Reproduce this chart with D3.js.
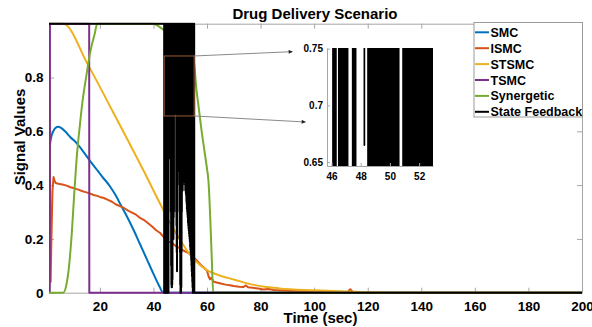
<!DOCTYPE html>
<html>
<head>
<meta charset="utf-8">
<script src="https://cdn.jsdelivr.net/npm/d3@7"></script>
<style>
  html, body { margin: 0; padding: 0; background: #fff; }
  svg { display: block; font-family: "Liberation Sans", Arial, Helvetica, sans-serif; }
</style>
</head>
<body>
<svg id="chart" width="592" height="327"></svg>
<script>
// ---- series (time in sec, signal value) ----
const smcTime = [1, 1.5, 2, 2.6, 3.5, 4.4, 5.5, 7, 9, 11.3, 14, 16.3, 18.8, 21, 23.8, 26, 28, 30, 32.5, 35, 37.5, 40, 42, 43.7, 200];
const smcValue = [0.515, 0.56, 0.585, 0.6, 0.613, 0.617, 0.613, 0.6, 0.578, 0.556, 0.522, 0.49, 0.458, 0.43, 0.395, 0.36, 0.322, 0.285, 0.235, 0.18, 0.125, 0.07, 0.028, 0, 0];

const ismcTime = [1, 1.6, 1.9, 2.3, 2.7, 3.1, 3.5, 4.5, 6, 7.6, 9, 10.5, 12, 13.5, 15, 16.5, 18, 19, 20, 21.5, 23, 24.5, 26, 27.5, 29, 30.5, 32, 33.5, 35, 36.5, 38, 39.5, 41, 42.5, 44, 45.5, 47, 48.5, 50, 51.5, 53, 54.5, 56, 57.5, 59, 60, 60.6, 61.1, 61.6, 62.5, 64, 65.5, 67, 68.5, 70, 72, 73.5, 74.5, 75.3, 77, 79, 81, 83, 85, 87, 90, 93, 96, 100, 105, 110, 112.5, 113.5, 114.3, 115, 200];
const ismcValue = [1.0, 0.04, 0.2, 0.38, 0.43, 0.415, 0.408, 0.405, 0.402, 0.398, 0.392, 0.388, 0.383, 0.377, 0.373, 0.368, 0.362, 0.36, 0.356, 0.352, 0.345, 0.338, 0.328, 0.322, 0.315, 0.305, 0.298, 0.29, 0.278, 0.27, 0.258, 0.246, 0.232, 0.222, 0.205, 0.19, 0.185, 0.172, 0.165, 0.155, 0.148, 0.136, 0.122, 0.105, 0.092, 0.082, 0.06, 0.05, 0.055, 0.041, 0.037, 0.033, 0.03, 0.028, 0.025, 0.022, 0.021, 0.027, 0.02, 0.018, 0.016, 0.012, 0.014, 0.01, 0.009, 0.007, 0.006, 0.005, 0.004, 0.003, 0.002, 0.004, 0.013, 0.004, 0, 0];

const stsmcTime = [1, 6.3, 15.6, 25, 30, 36.2, 40, 43.7, 47, 50, 53, 56, 60, 65, 70, 77, 87, 100, 110, 120, 130, 200];
const stsmcValue = [1.0, 1.0, 0.846, 0.67, 0.575, 0.456, 0.38, 0.307, 0.245, 0.196, 0.15, 0.115, 0.084, 0.063, 0.049, 0.03, 0.016, 0.009, 0.005, 0.002, 0, 0];

const tsmcTime = [1.3, 1.35, 16.0, 16.05, 200];
const tsmcValue = [0, 1, 1, 0, 0];

const synTime = [1, 6.3, 7.5, 8.5, 9.5, 10.5, 11.5, 12.5, 13.5, 15, 16.5, 18, 19, 40, 42, 44, 47, 50, 53, 55, 56, 57, 58, 59, 60, 60.5, 61.2, 61.8, 62.3, 200];
const synValue = [0, 0, 0.03, 0.1, 0.22, 0.38, 0.52, 0.62, 0.71, 0.81, 0.9, 0.96, 1.0, 1.0, 0.99, 0.975, 0.955, 0.935, 0.9, 0.865, 0.76, 0.68, 0.6, 0.53, 0.46, 0.42, 0.28, 0.12, 0, 0];

// State feedback: on (1) until the switching interval, then rapid dips, then off (0)
const sfHeadTime = [1];
const sfHeadValue = [1];
const sfDipTime = [
  44.0, 44.1, 44.2, 44.3, 44.4, 44.5, 44.6, 44.7, 44.8, 44.9, 45.0, 45.1, 45.2, 45.3, 45.4, 45.5, 45.6,
  46.1, 46.2, 46.3,
  46.5, 46.6, 46.7, 46.8, 46.9, 47.0, 47.1,
  47.45, 47.55, 47.65,
  48.25,
  48.5, 48.6, 48.7, 48.8, 48.9, 49.0, 49.1, 49.2, 49.3, 49.4, 49.5, 49.6, 49.7, 49.8, 49.9, 50.0, 50.1, 50.2, 50.3, 50.4, 50.5, 50.6,
  50.9, 51.0, 51.1, 51.2, 51.3, 51.4, 51.5, 51.6, 51.7, 51.8, 51.9, 52.0, 52.1, 52.2, 52.3, 52.4, 52.5, 52.6, 52.7, 52.8, 52.9,
  53.0, 53.1, 53.2, 53.3, 53.4, 53.5, 53.6, 53.7, 53.8, 53.9, 54.0, 54.1, 54.2, 54.3, 54.4, 54.5, 54.6,
  54.7, 54.8, 54.9, 55.0, 55.1, 55.2
];
const sfDipLow = [
  0, 0, 0, 0, 0, 0, 0, 0, 0, 0, 0, 0, 0, 0, 0, 0, 0,
  0.50, 0.58, 0.55,
  0.30, 0.10, 0.03, 0.02, 0.02, 0.03, 0.05,
  0.20, 0.28, 0.30,
  0.665,
  0.30, 0.25, 0.15, 0.08, 0.20, 0.45, 0.58, 0.60, 0.55, 0.58, 0.50, 0.45, 0.40, 0.30, 0.15, 0.03, 0, 0, 0, 0.02, 0.15, 0.30,
  0.38, 0.40, 0.42, 0.43, 0.44, 0.42, 0.44, 0.43, 0.41, 0.40, 0.38, 0.39, 0.37, 0.36, 0.34, 0.33, 0.31, 0.30, 0.29, 0.28, 0.26,
  0.25, 0.24, 0.23, 0.22, 0.21, 0.20, 0.19, 0.17, 0.16, 0.15, 0.14, 0.12, 0.10, 0.08, 0.06, 0.04, 0.02,
  0, 0, 0, 0, 0, 0
];
const sfTailTime = [55.25, 200];
const sfTailValue = [0, 0];

const seriesNames = ["SMC", "ISMC", "STSMC", "TSMC", "Synergetic", "State Feedback"];
const seriesColors = ["#0072BD", "#D95319", "#EDB120", "#7E2F8E", "#77AC30", "#000000"];

// axis ticks
const xTicks = [20, 40, 60, 80, 100, 120, 140, 160, 180, 200];
const yTicks = [0, 0.2, 0.4, 0.6, 0.8];
const insetXTicks = [46, 48, 50, 52];
const insetYTicks = [0.65, 0.7, 0.75];

// zoomed region [t0, t1, v0, v1]
const zoomBox = [44, 55.2, 0.657, 0.88];

// ---- build ----
const zip = (t, v) => t.map((d, i) => [d, v[i]]);
const sfPoints = [];
zip(sfHeadTime, sfHeadValue).forEach(p => sfPoints.push(p));
sfDipTime.forEach((t, i) => { sfPoints.push([t, 1], [t, sfDipLow[i]], [t, 1]); });
zip(sfTailTime, sfTailValue).forEach(p => sfPoints.push(p));

const seriesData = [
  { pts: zip(smcTime, smcValue), curve: d3.curveMonotoneX },
  { pts: zip(ismcTime, ismcValue), curve: d3.curveLinear },
  { pts: zip(stsmcTime, stsmcValue), curve: d3.curveMonotoneX },
  { pts: zip(tsmcTime, tsmcValue), curve: d3.curveLinear },
  { pts: zip(synTime, synValue), curve: d3.curveMonotoneX },
  { pts: sfPoints, curve: d3.curveLinear }
];

const svg = d3.select("#chart");
const W = 592, H = 327;
const axisGray = "#a6a6a6";

const m = { left: 49, right: 582, top: 23.7, bottom: 292.7 };
const x = d3.scaleLinear().domain([1, 200]).range([m.left, m.right]);
const y = d3.scaleLinear().domain([0, 1]).range([m.bottom, m.top]);

svg.append("defs").append("clipPath").attr("id", "mainClip")
  .append("rect").attr("x", m.left).attr("y", m.top - 1.5)
  .attr("width", m.right - m.left).attr("height", m.bottom - m.top + 3);

// axes (MATLAB-like box, inward ticks)
function styleAxis(g) {
  g.selectAll("path.domain").attr("stroke", axisGray).attr("stroke-width", 1);
  g.selectAll(".tick line").attr("stroke", axisGray).attr("stroke-width", 1);
  g.selectAll(".tick text").attr("fill", "#000").attr("font-weight", "bold");
}
svg.append("g").attr("transform", `translate(0,${m.bottom})`)
  .call(d3.axisBottom(x).tickValues(xTicks).tickSize(-5).tickSizeOuter(0).tickPadding(8.3))
  .call(styleAxis).call(g => g.selectAll("text").attr("font-size", "13.5px"));
svg.append("g").attr("transform", `translate(0,${m.top})`)
  .call(d3.axisTop(x).tickValues(xTicks).tickSize(-5).tickSizeOuter(0).tickFormat(""))
  .call(styleAxis);
svg.append("g").attr("transform", `translate(${m.left},0)`)
  .call(d3.axisLeft(y).tickValues(yTicks).tickSize(-5).tickSizeOuter(0).tickPadding(5.5).tickFormat(d => d === 0 ? "0" : d3.format(".1f")(d)))
  .call(styleAxis).call(g => g.selectAll("text").attr("font-size", "13.5px"));
svg.append("g").attr("transform", `translate(${m.right},0)`)
  .call(d3.axisRight(y).tickValues(yTicks).tickSize(-5).tickSizeOuter(0).tickFormat(""))
  .call(styleAxis);

// lines
const plot = svg.append("g").attr("clip-path", "url(#mainClip)");
seriesData.forEach((s, i) => {
  plot.append("path")
    .datum(s.pts)
    .attr("fill", "none")
    .attr("stroke", seriesColors[i])
    .attr("stroke-width", 2)
    .attr("stroke-linejoin", "round")
    .attr("d", d3.line().x(d => x(d[0])).y(d => y(d[1])).curve(s.curve));
});

// zoomed region outline
svg.append("rect")
  .attr("x", x(zoomBox[0])).attr("y", y(zoomBox[3]))
  .attr("width", x(zoomBox[1]) - x(zoomBox[0]))
  .attr("height", y(zoomBox[2]) - y(zoomBox[3]))
  .attr("fill", "none").attr("stroke", "#9b5b38").attr("stroke-width", 1);

// arrows toward the inset (figure-normalised end points)
const arrowEnds = [[0.4944, 0.158], [0.5164, 0.3731]];
const arrowStarts = [[zoomBox[1], zoomBox[3]], [zoomBox[1], zoomBox[2]]];
svg.select("defs").append("marker")
  .attr("id", "arrowHead").attr("viewBox", "0 0 10 10")
  .attr("refX", 10).attr("refY", 5)
  .attr("markerWidth", 5).attr("markerHeight", 4)
  .attr("markerUnits", "userSpaceOnUse")
  .attr("orient", "auto")
  .append("path").attr("d", "M0,0 L10,5 L0,10 z").attr("fill", "#222");
arrowStarts.forEach((s, i) => {
  svg.append("line")
    .attr("x1", x(s[0])).attr("y1", y(s[1]))
    .attr("x2", arrowEnds[i][0] * W).attr("y2", arrowEnds[i][1] * H)
    .attr("stroke", "#8a8a8a").attr("stroke-width", 1)
    .attr("marker-end", "url(#arrowHead)");
});

// ---- inset: state feedback close-up ----
const ix = d3.scaleLinear().domain([45.69, 52.95]).range([327, 433]);
const iy = d3.scaleLinear().domain([0.6465, 0.7506]).range([166, 48]);
svg.select("defs").append("clipPath").attr("id", "insetClip")
  .append("rect").attr("x", ix.range()[0]).attr("y", iy.range()[1])
  .attr("width", ix.range()[1] - ix.range()[0]).attr("height", iy.range()[0] - iy.range()[1]);
svg.append("rect").attr("x", ix.range()[0]).attr("y", iy.range()[1])
  .attr("width", ix.range()[1] - ix.range()[0]).attr("height", iy.range()[0] - iy.range()[1])
  .attr("fill", "#fff");
svg.append("g").attr("clip-path", "url(#insetClip)")
  .append("path").datum(sfPoints)
  .attr("fill", "none").attr("stroke", "#000").attr("stroke-width", 1.7)
  .attr("stroke-linejoin", "round")
  .attr("d", d3.line().x(d => ix(d[0])).y(d => iy(d[1])));
svg.append("g").attr("transform", `translate(0,${iy.range()[0]})`)
  .call(d3.axisBottom(ix).tickValues(insetXTicks).tickSize(-3).tickSizeOuter(0).tickPadding(7))
  .call(styleAxis).call(g => g.selectAll("text").attr("font-size", "10px"));
svg.append("g").attr("transform", `translate(${ix.range()[0]},0)`)
  .call(d3.axisLeft(iy).tickValues(insetYTicks).tickSize(-3).tickSizeOuter(0).tickPadding(4).tickFormat(d => String(d)))
  .call(styleAxis).call(g => g.selectAll("text").attr("font-size", "10px"));

// ---- titles ----
svg.append("text").attr("x", 315).attr("y", 19).attr("text-anchor", "middle")
  .attr("font-size", "15px").attr("font-weight", "bold").text("Drug Delivery Scenario");
svg.append("text").attr("x", 320.5).attr("y", 322.5).attr("text-anchor", "middle")
  .attr("font-size", "15px").attr("font-weight", "bold").text("Time (sec)");
svg.append("text").attr("transform", "translate(25,137) rotate(-90)").attr("text-anchor", "middle")
  .attr("font-size", "15px").attr("font-weight", "bold").text("Signal Values");

// ---- legend ----
const lg = svg.append("g");
lg.append("rect").attr("x", 474).attr("y", 22.5).attr("width", 108.5).attr("height", 94.5)
  .attr("fill", "#fff").attr("stroke", "#9a9a9a").attr("stroke-width", 1);
seriesNames.forEach((name, i) => {
  const cy = 32.3 + i * 15.9;
  lg.append("line").attr("x1", 475).attr("x2", 489).attr("y1", cy).attr("y2", cy)
    .attr("stroke", seriesColors[i]).attr("stroke-width", 2);
  lg.append("text").attr("x", 490.5).attr("y", cy).attr("dy", "0.36em")
    .attr("font-size", "12.5px").attr("font-weight", "bold").text(name);
});
</script>
</body>
</html>
